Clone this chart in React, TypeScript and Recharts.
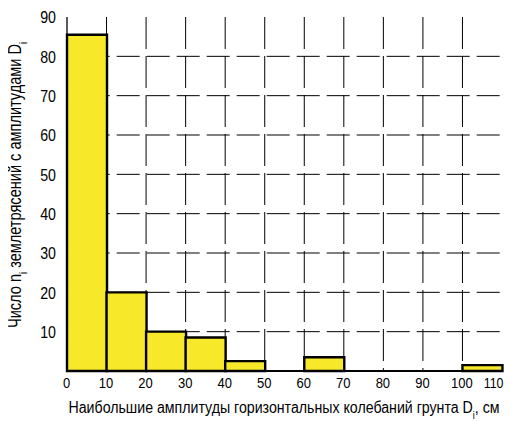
import React from "react";
import { ComposedChart, Bar, XAxis, YAxis, CartesianGrid, Customized } from "recharts";

const binCenters = [5, 15, 25, 35, 45, 55, 65, 75, 85, 95, 105];
const counts: (number | null)[] = [85.5, 20, 10, 8.5, 2.5, null, 3.5, null, null, null, 1.5];
const xTicks = [0, 10, 20, 30, 40, 50, 60, 70, 80, 90, 100, 110];
const yTicks = [10, 20, 30, 40, 50, 60, 70, 80, 90];
const gridX = [10, 20, 30, 40, 50, 60, 70, 80, 90, 100];
const gridY = [10, 20, 30, 40, 50, 60, 70, 80];

const data = binCenters.map((x, i) => ({ x, n: counts[i] }));

const FONT = "'Liberation Sans', Arial, sans-serif";

const W = 504;
const H = 414;

const Frame = (props: any) => {
  const { offset } = props;
  if (!offset) return null;
  const { left, top, width, height } = offset;
  return (
    <rect x={left} y={top} width={width} height={height} fill="none" stroke="#222" strokeWidth={1.3} />
  );
};

const XTick = (props: any) => {
  const { x, payload, index } = props;
  const isLast = index === xTicks.length - 1;
  return (
    <text
      transform={`translate(${isLast ? x + 1.5 : x - 0.5}, 380) scale(${isLast ? 0.8 : 0.84}, 1)`}
      textAnchor={isLast ? "end" : "middle"}
      fontFamily={FONT}
      fontSize={15.5}
      fill="#000"
    >
      {payload.value}
    </text>
  );
};

const YTick = (props: any) => {
  const { y, payload } = props;
  return (
    <text
      transform={`translate(48, ${y + 6.3}) scale(0.86, 1)`}
      textAnchor="end"
      fontFamily={FONT}
      fontSize={16.5}
      fill="#000"
    >
      {payload.value}
    </text>
  );
};

export default function App() {
  return (
    <div style={{ position: "relative", width: W, height: H }}>
      <style>{"html, body { overflow: hidden; } svg { overflow: visible !important; }"}</style>
      <ComposedChart
        width={W}
        height={H}
        data={data}
        margin={{ top: 9, right: 10, bottom: 0, left: 0 }}
        barCategoryGap={0}
        barGap={0}
        style={{ overflow: "visible" }}
      >
        <CartesianGrid
          horizontal={true}
          vertical={false}
          stroke="#000"
          strokeWidth={1}
          strokeDasharray="23 7"
          strokeDashoffset={10.3}
          horizontalValues={gridY}
        />
        <CartesianGrid
          horizontal={false}
          vertical={true}
          stroke="#000"
          strokeWidth={1}
          strokeDasharray="32 7"
          verticalValues={gridX}
        />
        <XAxis
          dataKey="x"
          type="number"
          domain={[0, 110]}
          ticks={xTicks}
          interval={0}
          height={51}
          tickLine={false}
          axisLine={{ stroke: "#000", strokeWidth: 2 }}
          tick={<XTick />}
        />
        <YAxis
          type="number"
          domain={[0, 90]}
          ticks={yTicks}
          interval={0}
          width={59}
          tickLine={false}
          axisLine={{ stroke: "#000", strokeWidth: 1.3 }}
          tick={<YTick />}
        />
        <Bar dataKey="n" fill="#f7e82a" stroke="#000" strokeWidth={2.4} isAnimationActive={false} />
        <Customized component={Frame} />
        <text
          x={12.7}
          y={177}
          transform="rotate(-90 12.7 177)"
          textAnchor="middle"
          fontFamily={FONT}
          fontSize={17.5}
          fill="#000"
          textLength={286}
          lengthAdjust="spacingAndGlyphs"
        >
          Число n<tspan baselineShift="sub" fontSize={11}>i</tspan> землетрясений с амплитудами D<tspan baselineShift="sub" fontSize={11}>i</tspan>
        </text>
        <text
          x={276}
          y={404.5}
          textAnchor="middle"
          fontFamily={FONT}
          fontSize={16}
          fill="#000"
          textLength={431}
          lengthAdjust="spacingAndGlyphs"
        >
          Наибольшие амплитуды горизонтальных колебаний грунта D<tspan baselineShift="sub" fontSize={10}>i</tspan>, см
        </text>
      </ComposedChart>
    </div>
  );
}
